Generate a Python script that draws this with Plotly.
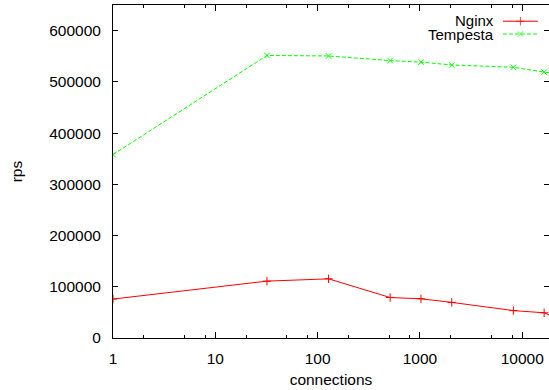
import plotly.graph_objects as go

connections = [1, 32, 128, 512, 1024, 2048, 8192, 16384, 32768]
nginx = [76000, 111000, 115500, 79000, 76500, 69500, 53500, 49200, 24000]
tempesta = [358000, 551500, 550500, 541500, 538500, 533000, 528500, 519000, 512000]

x_tickvals = [1, 10, 100, 1000, 10000]
x_ticktext = ["1", "10", "100", "1000", "10000"]
x_minor = [m * 10 ** d for d in range(0, 5) for m in (2, 5, 8)]
y_tickvals = [0, 100000, 200000, 300000, 400000, 500000, 600000]

FONT = "Liberation Sans, Arial, sans-serif"
FS = 15.5

fig = go.Figure()
fig.add_trace(go.Scatter(
    x=connections, y=nginx, mode="lines+markers", name="Nginx",
    line=dict(color="#ff0000", width=1),
    marker=dict(symbol="cross-thin", size=6, line=dict(color="#ff0000", width=1)),
    showlegend=False, cliponaxis=True))
fig.add_trace(go.Scatter(
    x=connections, y=tempesta, mode="lines+markers", name="Tempesta",
    line=dict(color="#00ff00", width=1, dash="4px,2px"),
    marker=dict(symbol="x-thin", size=5.5, line=dict(color="#00ff00", width=1)),
    showlegend=False, cliponaxis=True))

# legend samples on an overlay axis in pixel-like units
fig.add_trace(go.Scatter(x=[491, 513, 535], y=[19, 19, 19], mode="lines+markers",
                         xaxis="x2", yaxis="y2", showlegend=False, hoverinfo="skip",
                         line=dict(color="#ff0000", width=1),
                         marker=dict(symbol=["line-ns", "cross-thin", "line-ns"], size=[0, 6, 0],
                                     line=dict(color="#ff0000", width=1))))
fig.add_trace(go.Scatter(x=[491, 513, 535], y=[34, 34, 34], mode="lines+markers",
                         xaxis="x2", yaxis="y2", showlegend=False, hoverinfo="skip",
                         line=dict(color="#00ff00", width=1, dash="4px,2px"),
                         marker=dict(symbol=["line-ns", "x-thin", "line-ns"], size=[0, 5.5, 0],
                                     line=dict(color="#00ff00", width=1))))

fig.add_annotation(x=481, y=18.5, xref="x2", yref="y2", text="Nginx", showarrow=False,
                   xanchor="right", yanchor="middle", borderpad=0,
                   font=dict(family=FONT, size=15, color="black"))
fig.add_annotation(x=481, y=34.5, xref="x2", yref="y2", text="Tempesta", showarrow=False,
                   xanchor="right", yanchor="middle", borderpad=0,
                   font=dict(family=FONT, size=15, color="black"))

fig.update_layout(
    width=549, height=390,
    margin=dict(l=113, r=0, t=5, b=52, autoexpand=False),
    paper_bgcolor="white", plot_bgcolor="white",
    font=dict(family=FONT, size=FS, color="black"),
    xaxis=dict(
        type="log", range=[0, 4.262],
        tickmode="array", tickvals=x_tickvals, ticktext=x_ticktext,
        ticks="inside", ticklen=6, tickwidth=1, tickcolor="black",
        minor=dict(tickmode="array", tickvals=x_minor, ticks="inside", ticklen=3,
                   tickcolor="black", tickwidth=1),
        showline=True, linecolor="black", linewidth=1, mirror="ticks",
        showgrid=False, zeroline=False,
        title=dict(text="connections", standoff=8, font=dict(size=FS)),
        ticklabelstandoff=6,
    ),
    yaxis=dict(
        range=[0, 650000],
        tickmode="array", tickvals=y_tickvals, ticktext=[str(v) for v in y_tickvals],
        ticks="inside", ticklen=5, tickwidth=1, tickcolor="black",
        showline=True, linecolor="black", linewidth=1, mirror="ticks",
        showgrid=False, zeroline=False,
        title=dict(text="rps", standoff=22, font=dict(size=FS)),
        ticklabelstandoff=8,
    ),
    xaxis2=dict(domain=[0, 1], range=[0, 549], overlaying="x", visible=False, anchor="y2"),
    yaxis2=dict(domain=[0, 1], range=[390, 0], overlaying="y", visible=False, anchor="x2"),
)
fig.write_html("out.html", config={"displayModeBar": False},
               post_script="document.body.style.margin='0px';document.body.style.padding='0px';")
